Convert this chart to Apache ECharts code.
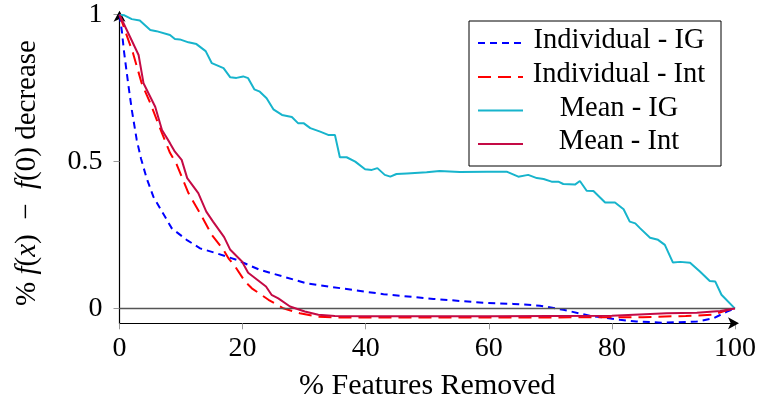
<!DOCTYPE html>
<html>
<head>
<meta charset="utf-8">
<script src="https://cdn.jsdelivr.net/npm/echarts@6/dist/echarts.min.js"></script>
<style>
  html, body { margin: 0; padding: 0; background: #fff; }
  #chart { width: 757px; height: 401px; }
</style>
</head>
<body>
<div id="chart"></div>
<script>
// Share of the output drop f(x) - f(0) versus percentage of features removed.
const xTicks = [0, 20, 40, 60, 80, 100];
const yTicks = [0, 0.5, 1];
const yTickLabels = ['0', '0.5', '1'];

const seriesNames = ['Individual - IG', 'Individual - Int', 'Mean - IG', 'Mean - Int'];

const individualIG = [
  [0, 1], [0.4, 0.942], [0.7, 0.88], [1.4, 0.767], [2, 0.676], [2.8, 0.574],
  [3.5, 0.51], [4.4, 0.444], [5.5, 0.381], [6.9, 0.33], [8.5, 0.273],
  [10.9, 0.234], [13.1, 0.205], [15.8, 0.188], [19, 0.166], [22.8, 0.132],
  [26.6, 0.109], [30.4, 0.086], [34.7, 0.073], [42.9, 0.049], [51, 0.033],
  [59.1, 0.02], [64, 0.016], [68.3, 0.01], [72.1, -0.004], [76.4, -0.024],
  [81.3, -0.038], [84, -0.044], [88.4, -0.048], [93.8, -0.044], [96.5, -0.033],
  [98.7, -0.01], [100, 0]
];

const individualInt = [
  [0, 1], [1, 0.94], [2.2, 0.869], [3.6, 0.767], [5, 0.699], [6.9, 0.597],
  [8.2, 0.53], [9.3, 0.49], [10.1, 0.449], [11.2, 0.393], [13.1, 0.324],
  [15, 0.251], [16.9, 0.2], [17.7, 0.171], [18.8, 0.143], [20.4, 0.092],
  [21.5, 0.069], [24.2, 0.03], [26.6, 0.001], [29.3, -0.016], [32, -0.027],
  [35, -0.03], [50, -0.03], [70, -0.03], [85, -0.029], [92, -0.025],
  [96.4, -0.021], [98.9, -0.004], [100, 0]
];

const meanIG = [
  [0, 1], [0.8, 0.998], [2, 0.985], [3.3, 0.98], [5, 0.948], [6, 0.944],
  [8.2, 0.931], [9, 0.917], [9.8, 0.916], [11.2, 0.906], [12.5, 0.9],
  [14, 0.876], [15, 0.835], [16.9, 0.818], [18, 0.787], [19, 0.785],
  [20.1, 0.79], [20.9, 0.784], [21.9, 0.746], [22.8, 0.738], [23.9, 0.716],
  [25, 0.678], [26.4, 0.659], [28, 0.652], [29, 0.631], [29.9, 0.631],
  [31, 0.614], [32.6, 0.602], [33.9, 0.591], [35, 0.591], [35.8, 0.515],
  [36.9, 0.515], [38.3, 0.5], [39.9, 0.474], [41, 0.472], [41.9, 0.478],
  [43.1, 0.455], [44, 0.449], [45, 0.458], [46.7, 0.46], [49.9, 0.464],
  [52, 0.468], [55.3, 0.465], [59.7, 0.466], [62.9, 0.466], [64.8, 0.449],
  [66.4, 0.455], [67.8, 0.444], [68.9, 0.441], [70.2, 0.432], [71.3, 0.432],
  [72.1, 0.424], [74, 0.422], [74.8, 0.434], [75.9, 0.401], [77, 0.4],
  [78.9, 0.361], [80.5, 0.361], [81.9, 0.338], [82.9, 0.296], [83.8, 0.29],
  [84.6, 0.273], [86.2, 0.241], [87.5, 0.234], [88.6, 0.217], [89.9, 0.157],
  [91.1, 0.159], [92.7, 0.156], [94.3, 0.126], [95.9, 0.094], [96.8, 0.092],
  [97.8, 0.047], [100, 0]
];

const meanInt = [
  [0, 1], [1.7, 0.925], [3.1, 0.863], [3.9, 0.767], [5.8, 0.687], [6.9, 0.608],
  [8.2, 0.563], [9, 0.534], [10.1, 0.506], [11, 0.444], [12.8, 0.393],
  [14.1, 0.33], [15.2, 0.296], [17, 0.243], [18, 0.2], [19.9, 0.16],
  [20.9, 0.122], [23.8, 0.075], [24.7, 0.047], [25.8, 0.035], [27.7, 0.007],
  [30.1, -0.01], [32.3, -0.021], [35, -0.025], [40, -0.026], [50, -0.026],
  [60, -0.026], [70, -0.025], [80, -0.024], [88.9, -0.016], [93.8, -0.014],
  [97.6, -0.008], [100, 0]
];

const colors = ['#0000ff', '#ff0000', '#17b4cc', '#c40a45'];
const dashes = [[7, 5], [13, 7], 'solid', 'solid'];
const seriesData = [individualIG, individualInt, meanIG, meanInt];

const FONT = 'Liberation Serif';
const GRID = { left: 119.5, right: 22, top: 14.7, bottom: 77.7, outerBoundsMode: 'none' };

const chart = echarts.init(document.getElementById('chart'), null, { renderer: 'canvas' });

const series = seriesData.map((d, i) => ({
  name: seriesNames[i],
  type: 'line',
  data: d,
  showSymbol: false,
  symbol: 'none',
  smooth: false,
  animation: false,
  z: 3 + i,
  lineStyle: { color: colors[i], width: 2, type: dashes[i] }
}));

// Horizontal reference line at zero
series[0].markLine = {
  silent: true,
  symbol: 'none',
  animation: false,
  label: { show: false },
  lineStyle: { color: '#555', width: 1.3, type: 'solid' },
  data: [{ yAxis: 0 }]
};

// Legend box drawn as graphic elements
const legendX = 469, legendY = 21, legendW = 252, legendH = 145;
const rowY = [43, 77, 110.5, 144];
const graphics = [{
  type: 'rect',
  shape: { x: legendX, y: legendY, width: legendW, height: legendH },
  style: { fill: '#fff', stroke: '#000', lineWidth: 1 },
  z: 100
}];
seriesNames.forEach((name, i) => {
  graphics.push({
    type: 'line',
    shape: { x1: 478, y1: rowY[i], x2: 523, y2: rowY[i] },
    style: {
      stroke: colors[i], lineWidth: 2,
      lineDash: dashes[i] === 'solid' ? null : dashes[i]
    },
    z: 101
  });
  graphics.push({
    type: 'text',
    x: 619, y: rowY[i] - 2,
    style: {
      text: name, fill: '#000', font: '28.5px "Liberation Serif"',
      align: 'center', verticalAlign: 'middle'
    },
    z: 101
  });
});

// Vertical axis title: upright and italic pieces laid out along a rotated group
const titlePieces = [
  ['% ', false], ['f', true], ['(', false], ['x', true], [')  \u2212  ', false],
  ['f', true], ['(0) decrease', false]
];
const measureCtx = document.createElement('canvas').getContext('2d');
const pieceFont = it => (it ? 'italic ' : '') + '29px "Liberation Serif"';
const widths = titlePieces.map(([t, it]) => {
  measureCtx.font = pieceFont(it);
  return measureCtx.measureText(t).width;
});
const totalW = widths.reduce((a, b) => a + b, 0);
let cursor = -totalW / 2;
const titleChildren = titlePieces.map(([t, it], k) => {
  const el = {
    type: 'text',
    x: cursor, y: 0,
    style: {
      text: t, fill: '#000', font: pieceFont(it),
      align: 'left', verticalAlign: 'middle'
    }
  };
  cursor += widths[k];
  return el;
});
graphics.push({
  type: 'group',
  x: 27, y: 173,
  rotation: Math.PI / 2,
  children: titleChildren,
  z: 50
});

const option = {
  backgroundColor: '#fff',
  animation: false,
  grid: GRID,
  xAxis: {
    type: 'value',
    min: 0, max: 100, interval: 20,
    position: 'bottom',
    name: '% Features Removed',
    nameLocation: 'middle',
    nameGap: 48,
    nameTextStyle: { fontFamily: FONT, fontSize: 30, color: '#000' },
    axisLine: {
      show: true, onZero: false,
      symbol: ['none', 'arrow'], symbolSize: [9, 11], symbolOffset: [0, 4],
      lineStyle: { color: '#000', width: 1.2 }
    },
    axisTick: { show: true, length: 6, lineStyle: { color: '#999', width: 1 } },
    axisLabel: {
      fontFamily: FONT, fontSize: 28, color: '#000', margin: 11,
      formatter: v => String(v)
    },
    splitLine: { show: false }
  },
  yAxis: {
    type: 'value',
    min: -0.05, max: 1,
    position: 'left',
    axisLine: {
      show: true, onZero: false,
      symbol: ['none', 'arrow'], symbolSize: [9, 11], symbolOffset: [0, 4],
      lineStyle: { color: '#000', width: 1.2 }
    },
    axisTick: {
      show: true, length: 6, customValues: yTicks,
      lineStyle: { color: '#999', width: 1 }
    },
    axisLabel: {
      fontFamily: FONT, fontSize: 28, color: '#000', margin: 17,
      customValues: yTicks,
      formatter: v => {
        const idx = yTicks.findIndex(t => Math.abs(t - v) < 1e-9);
        return idx >= 0 ? yTickLabels[idx] : '';
      }
    },
    splitLine: { show: false }
  },
  series: series,
  graphic: graphics
};

chart.setOption(option);
</script>
</body>
</html>
